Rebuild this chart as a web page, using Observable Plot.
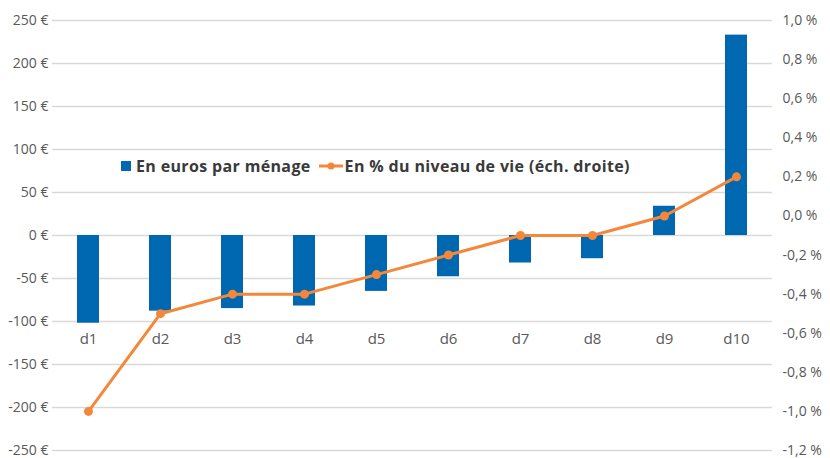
<!DOCTYPE html>
<html><head><meta charset="utf-8">
<script src="https://cdn.jsdelivr.net/npm/d3@7"></script>
<script src="https://cdn.jsdelivr.net/npm/@observablehq/plot@0.6"></script>
<style>
body{margin:0;background:#fff;}
#wrap{position:relative;width:830px;height:458px;font-family:"Open Sans",sans-serif;}
#legend{position:absolute;left:121px;top:155px;display:flex;align-items:center;font-size:16px;font-weight:700;color:#3a3a3a;white-space:nowrap;letter-spacing:0.35px;}
#legend .sq{display:inline-block;width:10px;height:10px;background:#0067b1;margin-right:5px;}
#legend svg{margin-left:8px;margin-right:2px;}
</style></head><body>
<div id="wrap">
<div id="legend"><span class="sq"></span><span id="l1"></span><svg width="24" height="10"><line x1="0" y1="5" x2="24" y2="5" stroke="#f5873a" stroke-width="3"/><circle cx="12" cy="5" r="3.5" fill="#f5873a"/></svg><span id="l2"></span></div>
</div>
<script>
const deciles = ["d1","d2","d3","d4","d5","d6","d7","d8","d9","d10"];
const euros = [-102, -88, -85, -82, -65, -48, -32, -27, 34, 233];
const pct = [-1.0, -0.5, -0.4, -0.4, -0.3, -0.2, -0.1, -0.1, 0.0, 0.2];
const leftTicks = [-250, -200, -150, -100, -50, 0, 50, 100, 150, 200, 250];
const rightTicks = [-1.2, -1.0, -0.8, -0.6, -0.4, -0.2, 0.0, 0.2, 0.4, 0.6, 0.8, 1.0];
const seriesNames = ["En euros par ménage", "En % du niveau de vie (éch. droite)"];
const labelLevel = -120;

document.getElementById("l1").textContent = seriesNames[0];
document.getElementById("l2").textContent = seriesNames[1];

const leftDom = [leftTicks[0], leftTicks[leftTicks.length - 1]];
const rightDom = [rightTicks[0], rightTicks[rightTicks.length - 1]];
const toLeft = p => leftDom[0] + (p - rightDom[0]) / (rightDom[1] - rightDom[0]) * (leftDom[1] - leftDom[0]);
const fromLeft = v => rightDom[0] + (v - leftDom[0]) / (leftDom[1] - leftDom[0]) * (rightDom[1] - rightDom[0]);

const data = deciles.map((d, i) => ({decile: d, euros: euros[i], pct: pct[i]}));
const fmtE = v => `${v < 0 ? "-" : ""}${Math.abs(v)}\u00a0€`;
const fmtP = v => {
  const p = fromLeft(v);
  const s = Math.abs(p).toFixed(1).replace(".", ",");
  return `${p < -1e-9 ? "-" : ""}${s}\u00a0%`;
};
const orange = "#f5873a";
const blue = "#0067b1";

const chart = Plot.plot({
  width: 830,
  height: 458,
  marginLeft: 52,
  marginRight: 58,
  marginTop: 20,
  marginBottom: 8,
  style: {fontFamily: "'Open Sans', sans-serif", background: "#fff"},
  x: {domain: deciles, paddingInner: 0.69, paddingOuter: 0.345, axis: null},
  y: {domain: leftDom, axis: null},
  marks: [
    Plot.ruleY(leftTicks, {stroke: "#d9d9d9", strokeWidth: 1.3}),
    Plot.barY(data, {x: "decile", y: "euros", fill: blue}),
    Plot.line(data, {x: "decile", y: d => toLeft(d.pct), stroke: orange, strokeWidth: 3}),
    Plot.dot(data, {x: "decile", y: d => toLeft(d.pct), r: 4.5, fill: orange}),
    Plot.text(data, {x: "decile", y: () => labelLevel, text: "decile", fontSize: 15, fill: "#595959"}),
    Plot.axisY(leftTicks, {anchor: "left", tickSize: 0, tickPadding: 4, tickFormat: fmtE, fontSize: 14, color: "#595959", label: null}),
    Plot.axisY(rightTicks.map(toLeft), {anchor: "right", tickSize: 0, tickPadding: 10, tickFormat: fmtP, fontSize: 14, color: "#595959", label: null})
  ]
});
document.getElementById("wrap").prepend(chart);
</script>
</body></html>
